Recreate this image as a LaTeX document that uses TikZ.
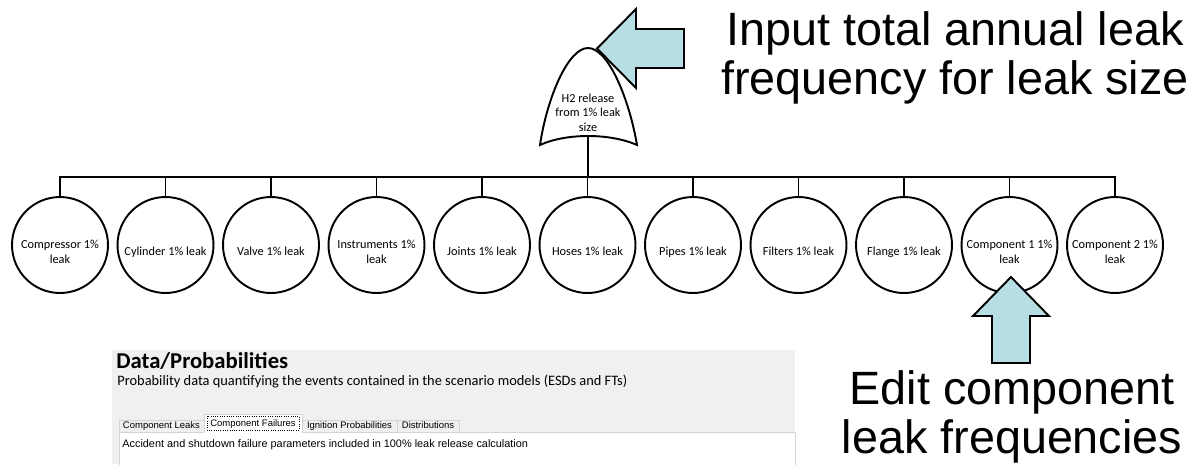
\documentclass[tikz,border=0pt]{standalone}
\usepackage{fontspec}
\setmainfont{Carlito}
\newfontfamily\arialfont{Liberation Sans}
\definecolor{CalloutCyan}{RGB}{183, 222, 226}
\definecolor{PanelGray}{RGB}{240, 240, 240}
\definecolor{TabBorder}{RGB}{212, 212, 212}
\usetikzlibrary{calc}

\begin{document}
\begin{tikzpicture}[x=0.02cm, y=-0.02cm,
                leaf/.style={draw, circle, line width=1.1pt, minimum size=1.92cm, inner sep=0pt},
                leaftext/.style={align=center, inner sep=0pt, font=\fontsize{7}{8.2}\selectfont},
                edge/.style={line width=1.1pt},
                callout/.style={draw=black, line width=1.1pt, fill=CalloutCyan},
                note/.style={align=center, inner sep=0pt, font=\arialfont\fontsize{26.6}{28}\selectfont},
                tab/.style={draw=TabBorder, fill=PanelGray},
                tabtext/.style={anchor=base, inner sep=0pt, font=\arialfont\fontsize{5.4}{6.5}\selectfont}]

                \useasboundingbox (0,0) rectangle (1204,464);

                % Top gate
                \draw[edge, fill=white] (540,145) .. controls (547,98) and (568,48) .. (588,48)
                    .. controls (608,48) and (629,98) .. (637,145)
                    .. controls (610,133) and (566,133) .. cycle;
                \node[leaftext] (gatetext) at (588,114) {H2 release\strut\\from 1\% leak\strut\\size\strut};
                \coordinate (gatebot) at (588,137);
                \coordinate (bus) at (588,177);

                % Leaves
                \node[leaf] (compr) at (60,245) {};
                \node[leaf] (cyl) at (165.5,245) {};
                \node[leaf] (valve) at (271,245) {};
                \node[leaf] (instr) at (376.5,245) {};
                \node[leaf] (joint) at (482,245) {};
                \node[leaf] (hose) at (587.5,245) {};
                \node[leaf] (pipe) at (693,245) {};
                \node[leaf] (filt) at (798.5,245) {};
                \node[leaf] (flange) at (904,245) {};
                \node[leaf] (compa) at (1009.5,245) {};
                \node[leaf] (compb) at (1115,245) {};

                % Leaf texts
                \node[leaftext] (comprtext) at (60,253) {Compressor 1\%\strut\\leak\strut};
                \node[leaftext] (cyltext) at (165.5,253) {Cylinder 1\% leak\strut};
                \node[leaftext] (valvetext) at (271,253) {Valve 1\% leak\strut};
                \node[leaftext] (instrtext) at (376.5,253) {Instruments 1\%\strut\\leak\strut};
                \node[leaftext] (jointtext) at (482,253) {Joints 1\% leak\strut};
                \node[leaftext] (hosetext) at (587.5,253) {Hoses 1\% leak\strut};
                \node[leaftext] (pipetext) at (693,253) {Pipes 1\% leak\strut};
                \node[leaftext] (filttext) at (798.5,253) {Filters 1\% leak\strut};
                \node[leaftext] (flangetext) at (904,253) {Flange 1\% leak\strut};
                \node[leaftext] (compatext) at (1009.5,253) {Component 1 1\%\strut\\leak\strut};
                \node[leaftext] (compbtext) at (1115,253) {Component 2 1\%\strut\\leak\strut};

                % Edges
                \draw[edge] (gatebot) -- (bus);
                \draw[edge] (compr.north) -- (compr.north |- bus) -- (compb.north |- bus) -- (compb.north);
                \draw[edge] (cyl.north) -- (cyl.north |- bus);
                \draw[edge] (valve.north) -- (valve.north |- bus);
                \draw[edge] (instr.north) -- (instr.north |- bus);
                \draw[edge] (joint.north) -- (joint.north |- bus);
                \draw[edge] (hose.north) -- (hose.north |- bus);
                \draw[edge] (pipe.north) -- (pipe.north |- bus);
                \draw[edge] (filt.north) -- (filt.north |- bus);
                \draw[edge] (flange.north) -- (flange.north |- bus);
                \draw[edge] (compa.north) -- (compa.north |- bus);

                % Callout arrows
                \draw[callout] (597,48.5) -- (636,9) -- (636,29) -- (684,29) -- (684,68) -- (636,68) -- (636,88) -- cycle;
                \draw[callout] (1011,277) -- (1049,316) -- (1030,316) -- (1030,363) -- (992,363) -- (992,316) -- (973,316) -- cycle;

                % Notes
                \node[note, anchor=north] (inputnote) at (955,11) {Input total annual leak\\frequency for leak size};
                \node[note, anchor=north] (editnote) at (1012,370) {Edit component\\leak frequencies};

                % Data panel
                \fill[PanelGray] (112,350) rectangle (795,464);
                \node[anchor=base west, inner sep=0pt, font=\bfseries\fontsize{12.9}{15}\selectfont] (paneltitle) at (116,368) {Data/Probabilities};
                \node[anchor=base west, inner sep=0pt, font=\fontsize{8.2}{10}\selectfont] (panelsub) at (117,385) {Probability data quantifying the events contained in the scenario models (ESDs and FTs)};
                \draw[fill=white, draw=TabBorder] (119,465) -- (119,432) -- (795,432) -- (795,465);
                \draw[tab] (119,420) rectangle (204,432);
                \draw[tab] (302,420) rectangle (397,432);
                \draw[tab] (397,420) rectangle (459,432);
                \fill[white] (204,414) rectangle (302,433);
                \draw[TabBorder] (204,432) -- (204,414) -- (302,414) -- (302,432);
                \draw[densely dotted, line width=0.3pt] (207,416) rectangle (299,430);
                \node[tabtext] (leakstab) at (161.5,428.5) {Component Leaks};
                \node[tabtext] (failtab) at (253,426) {Component Failures};
                \node[tabtext] (igntab) at (349.5,428.5) {Ignition Probabilities};
                \node[tabtext] (disttab) at (428,428.5) {Distributions};
                \node[anchor=base west, inner sep=0pt, font=\arialfont\fontsize{6.2}{7.5}\selectfont] (failnote) at (122,447) {Accident and shutdown failure parameters included in 100\% leak release calculation};
            \end{tikzpicture}
\end{document}
